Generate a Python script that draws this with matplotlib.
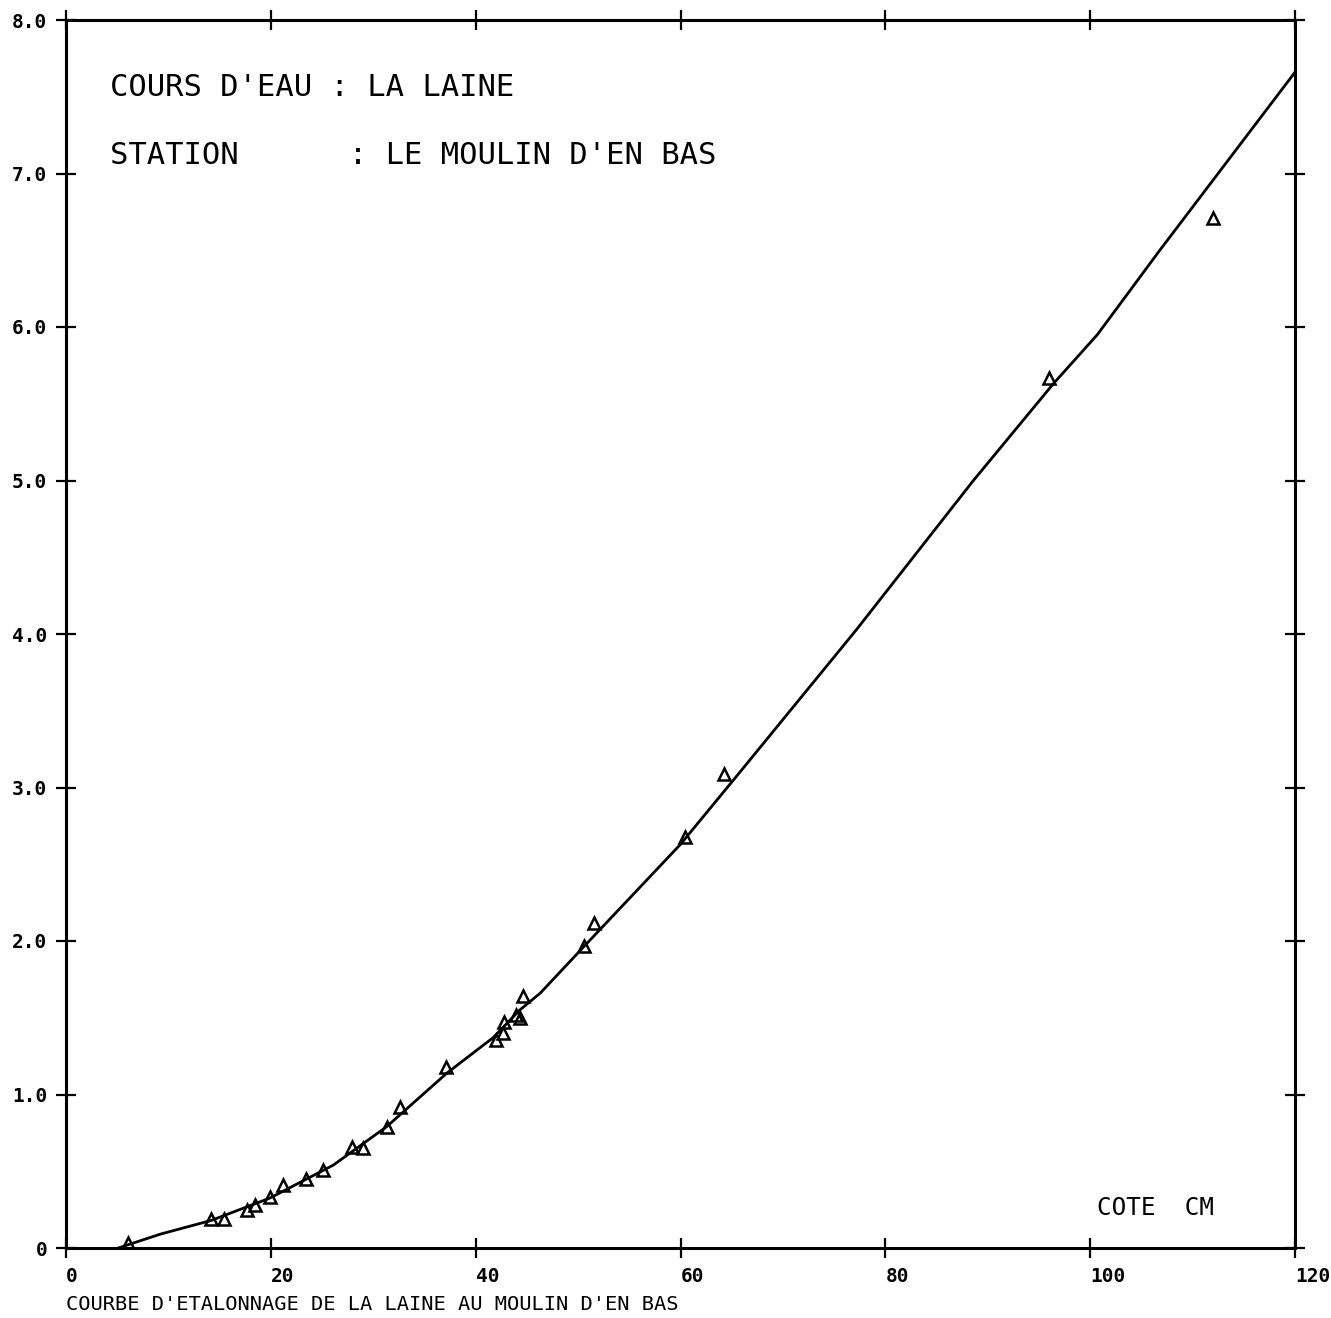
import matplotlib
matplotlib.use('Agg')
import matplotlib.pyplot as plt

# rating curve (cote en cm -> debit)
curve_x = [5.1, 9.2, 14.2, 19.9, 26.1, 31.3, 37.2, 41.7, 44.3, 46.3, 50.8,
           60.0, 65.8, 77.2, 88.6, 96.4, 100.7, 106.8, 120.0]
curve_y = [0.0, 0.09, 0.18, 0.325, 0.54, 0.79, 1.14, 1.37, 1.55, 1.66, 1.98,
           2.63, 3.10, 4.03, 5.00, 5.63, 5.95, 6.50, 7.66]

# gaugings (triangles)
obs_x = [6.1, 14.2, 15.4, 17.7, 18.5, 19.9, 21.2, 23.4, 25.1, 27.9, 29.0,
         31.3, 32.6, 37.1, 42.0, 42.7, 42.8, 43.9, 44.3, 44.6, 50.6, 51.6,
         60.4, 64.2, 96.0, 112.0]
obs_y = [0.03, 0.19, 0.19, 0.25, 0.28, 0.33, 0.41, 0.45, 0.51, 0.66, 0.65,
         0.79, 0.92, 1.18, 1.355, 1.40, 1.47, 1.52, 1.50, 1.64, 1.97, 2.12,
         2.68, 3.09, 5.67, 6.71]

xticks = [0, 20, 40, 60, 80, 100, 120]
xlabels = ['0', '20', '40', '60', '80', '100', '120']
yticks = [0, 1, 2, 3, 4, 5, 6, 7, 8]
ylabels = ['0', '1.0', '2.0', '3.0', '4.0', '5.0', '6.0', '7.0', '8.0']

mono = 'DejaVu Sans Mono'

fig = plt.figure(figsize=(13.31, 13.18), dpi=100)
ax = fig.add_axes([66 / 1331, 70 / 1318, 1229 / 1331, 1228 / 1318])

ax.plot(curve_x, curve_y, color='black', lw=2.0)
ax.plot(obs_x, obs_y, '^', ms=9, mfc='none', mec='black', mew=1.8)

ax.set_xlim(0, 120)
ax.set_ylim(0, 8)
for s in ax.spines.values():
    s.set_linewidth(2.2)

ax.set_xticks(xticks)
ax.set_xticklabels(xlabels, family=mono, fontsize=14, fontweight='bold', ha='left')
ax.set_yticks(yticks)
ax.set_yticklabels(ylabels, family=mono, fontsize=14, fontweight='bold')
ax.tick_params(direction='inout', length=15, width=1.6, top=True, right=True)
ax.tick_params(axis='y', pad=6)
ax.tick_params(axis='x', pad=6)

ax.text(4.3, 7.56, "COURS D'EAU : LA LAINE", family=mono, fontsize=22,
        va='center', ha='left')
ax.text(4.3, 7.12, "STATION      : LE MOULIN D'EN BAS", family=mono,
        fontsize=22, va='center', ha='left')
ax.text(100.7, 0.26, "COTE  CM", family=mono, fontsize=17.5, va='center',
        ha='left')

fig.text(66 / 1331, 1 - 1305 / 1318,
         "COURBE D'ETALONNAGE DE LA LAINE AU MOULIN D'EN BAS",
         family=mono, fontsize=14.7, va='center', ha='left')

fig.savefig('out.png', dpi=100, facecolor='white')
